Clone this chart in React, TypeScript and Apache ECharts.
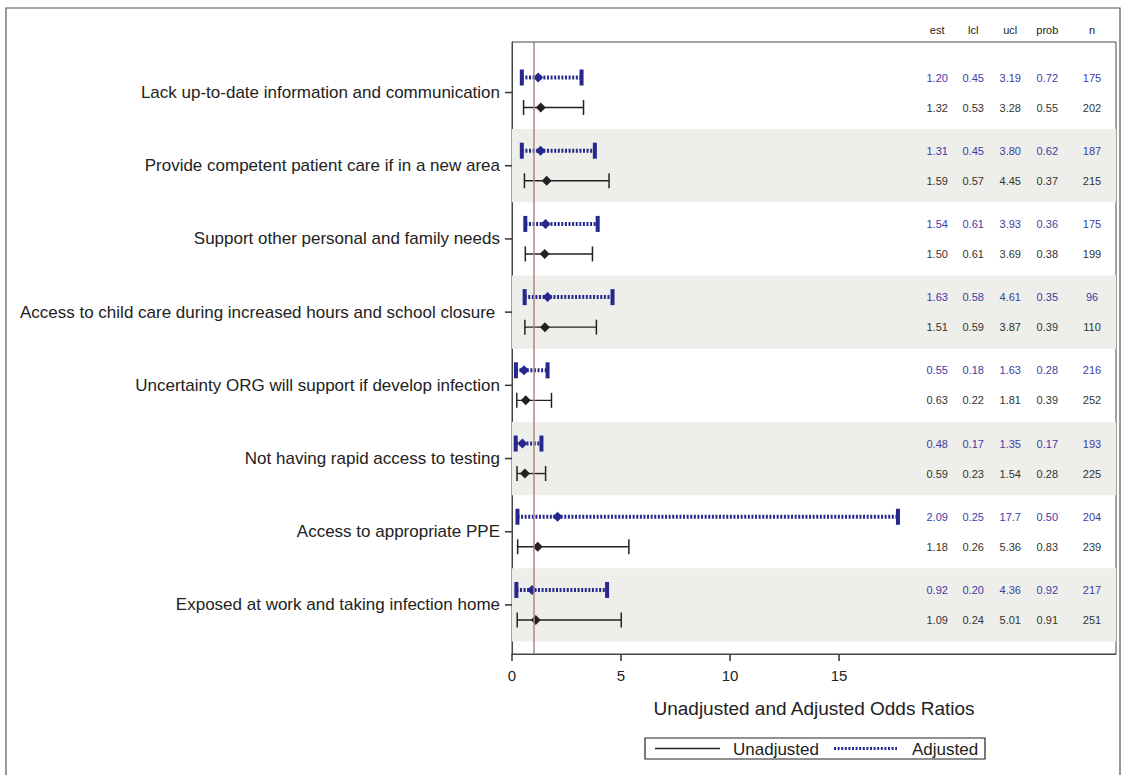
import React, { useEffect, useRef } from "react";
import * as echarts from "echarts";

const categories = [
  "Lack up-to-date information and communication",
  "Provide competent patient care if in a new area",
  "Support other personal and family needs",
  "Access to child care during increased hours and school closure ",
  "Uncertainty ORG will support if develop infection",
  "Not having rapid access to testing",
  "Access to appropriate PPE",
  "Exposed at work and taking infection home",
];

const adjEst = [1.2, 1.31, 1.54, 1.63, 0.55, 0.48, 2.09, 0.92];
const adjLcl = [0.45, 0.45, 0.61, 0.58, 0.18, 0.17, 0.25, 0.2];
const adjUcl = [3.19, 3.8, 3.93, 4.61, 1.63, 1.35, 17.7, 4.36];
const adjProb = [0.72, 0.62, 0.36, 0.35, 0.28, 0.17, 0.5, 0.92];
const adjN = [175, 187, 175, 96, 216, 193, 204, 217];

const unEst = [1.32, 1.59, 1.5, 1.51, 0.63, 0.59, 1.18, 1.09];
const unLcl = [0.53, 0.57, 0.61, 0.59, 0.22, 0.23, 0.26, 0.24];
const unUcl = [3.28, 4.45, 3.69, 3.87, 1.81, 1.54, 5.36, 5.01];
const unProb = [0.55, 0.37, 0.38, 0.39, 0.39, 0.28, 0.83, 0.91];
const unN = [202, 215, 199, 110, 252, 225, 239, 251];

const tableHeaders = ["est", "lcl", "ucl", "prob", "n"];
const tableColumnX = [19.5, 21.15, 22.85, 24.55, 26.6];
const xTicks = [0, 5, 10, 15];

const X_MIN = 0;
const X_MAX = 27.7;
const Y_MIN = -0.69;
const Y_MAX = 7.67;

const BLUE = "#26268f";
const BLUE_TEXT = "#3d3da3";
const BLACK = "#222222";
const OFFSET = 0.205;
const FONT = "Liberation Sans";

const fmt = (v: number) => (v >= 10 ? v.toFixed(1) : v.toFixed(2));

export default function App() {
  const ref = useRef<HTMLDivElement>(null);
  useEffect(() => {
    if (!ref.current) return;
    const chart = echarts.init(ref.current, null, { renderer: "svg" });

    const adjData = categories.map((_, i) => [adjEst[i], adjLcl[i], adjUcl[i], i - OFFSET]);
    const unData = categories.map((_, i) => [unEst[i], unLcl[i], unUcl[i], i + OFFSET]);

    const tableData: any[] = [];
    tableHeaders.forEach((h, c) => tableData.push([tableColumnX[c], -0.86, h, "#222"]));
    categories.forEach((_, i) => {
      const a = [fmt(adjEst[i]), fmt(adjLcl[i]), fmt(adjUcl[i]), adjProb[i].toFixed(2), String(adjN[i])];
      const u = [fmt(unEst[i]), fmt(unLcl[i]), fmt(unUcl[i]), unProb[i].toFixed(2), String(unN[i])];
      a.forEach((t, c) => tableData.push([tableColumnX[c], i - OFFSET, t, BLUE_TEXT]));
      u.forEach((t, c) => tableData.push([tableColumnX[c], i + OFFSET, t, "#333"]));
    });

    // tick marks: [x, y, direction] where direction 0 = y-axis tick (left), 1 = x-axis tick (down)
    const tickData: any[] = [
      ...categories.map((_, i) => [X_MIN, i, 0]),
      ...xTicks.map((v) => [v, Y_MAX, 1]),
    ];

    const renderBar = (adjusted: boolean) => (params: any, api: any) => {
      const est = api.value(0);
      const lcl = api.value(1);
      const ucl = api.value(2);
      const yv = api.value(3);
      const p1 = api.coord([lcl, yv]);
      const p2 = api.coord([ucl, yv]);
      const pe = api.coord([est, yv]);
      const color = adjusted ? BLUE : BLACK;
      const capH = adjusted ? 16 : 15;
      const capW = adjusted ? 4 : 1.5;
      const d = 5;
      return {
        type: "group",
        children: [
          {
            type: "line",
            shape: { x1: p1[0], y1: p1[1], x2: p2[0], y2: p2[1] },
            style: adjusted
              ? { stroke: color, lineWidth: 4, lineDash: [2, 1.6] }
              : { stroke: color, lineWidth: 1.4 },
          },
          {
            type: "rect",
            shape: { x: p1[0] - capW / 2, y: p1[1] - capH / 2, width: capW, height: capH },
            style: { fill: color },
          },
          {
            type: "rect",
            shape: { x: p2[0] - capW / 2, y: p2[1] - capH / 2, width: capW, height: capH },
            style: { fill: color },
          },
          {
            type: "polygon",
            shape: {
              points: [
                [pe[0], pe[1] - d],
                [pe[0] + d, pe[1]],
                [pe[0], pe[1] + d],
                [pe[0] - d, pe[1]],
              ],
            },
            style: { fill: color },
          },
        ],
      };
    };

    const bandData: any[] = [];
    for (let i = 1; i < categories.length; i += 2) {
      bandData.push([{ yAxis: i - 0.5 }, { yAxis: i + 0.5 }]);
    }

    const option: any = {
      animation: false,
      grid: {
        left: 512,
        right: 7,
        top: 42,
        bottom: 121,
        show: true,
        borderColor: "#444",
        borderWidth: 1,
        backgroundColor: "transparent",
      },
      xAxis: {
        type: "value",
        min: X_MIN,
        max: X_MAX,
        name: "Unadjusted and Adjusted Odds Ratios",
        nameLocation: "middle",
        nameGap: 45,
        nameTextStyle: { fontSize: 19, color: "#222", fontFamily: FONT },
        axisLine: { show: true, onZero: false, lineStyle: { color: "#444" } },
        axisTick: { show: false },
        axisLabel: {
          customValues: xTicks,
          fontSize: 15,
          color: "#222",
          fontFamily: FONT,
          margin: 14,
        },
        splitLine: { show: false },
      },
      yAxis: {
        type: "value",
        inverse: true,
        min: Y_MIN,
        max: Y_MAX,
        axisLine: { show: true, onZero: false, lineStyle: { color: "#444" } },
        axisTick: { show: false },
        axisLabel: {
          customValues: categories.map((_, i) => i),
          formatter: (v: number) => categories[Math.round(v)] ?? "",
          fontSize: 17,
          color: "#222",
          fontFamily: FONT,
          margin: 12,
        },
        splitLine: { show: false },
      },
      series: [
        {
          type: "custom",
          name: "Unadjusted",
          renderItem: renderBar(false),
          data: unData,
          encode: { x: [0, 1, 2], y: 3 },
          z: 3,
          markArea: {
            silent: true,
            itemStyle: { color: "#eeeeea" },
            data: bandData,
          },
          markLine: {
            silent: true,
            symbol: "none",
            label: { show: false },
            lineStyle: { color: "#a88888", width: 1.5, type: "solid" },
            data: [{ xAxis: 1 }],
          },
        },
        {
          type: "custom",
          name: "Adjusted",
          renderItem: renderBar(true),
          data: adjData,
          encode: { x: [0, 1, 2], y: 3 },
          z: 4,
        },
        {
          type: "custom",
          name: "ticks",
          clip: false,
          silent: true,
          renderItem: (params: any, api: any) => {
            const p = api.coord([api.value(0), api.value(1)]);
            const dir = api.value(2);
            const shape =
              dir === 0
                ? { x1: p[0] - 7, y1: p[1], x2: p[0], y2: p[1] }
                : { x1: p[0], y1: p[1], x2: p[0], y2: p[1] + 7 };
            return { type: "line", shape, style: { stroke: "#333", lineWidth: 1.5 } };
          },
          data: tickData,
          z: 6,
        },
        {
          type: "custom",
          name: "table",
          clip: false,
          silent: true,
          renderItem: (params: any, api: any) => {
            const item = tableData[params.dataIndex];
            const p = api.coord([item[0], item[1]]);
            return {
              type: "text",
              x: p[0],
              y: p[1],
              style: {
                text: item[2],
                fill: item[3],
                fontSize: 11,
                fontFamily: FONT,
                align: "center",
                verticalAlign: "middle",
              },
            };
          },
          data: tableData.map((t) => [t[0], t[1]]),
          z: 5,
        },
      ],
      graphic: [
        {
          type: "rect",
          shape: { x: 6, y: 8, width: 1114, height: 790 },
          style: { fill: "none", stroke: "#555", lineWidth: 1.2 },
          silent: true,
        },
        {
          type: "rect",
          shape: { x: 645, y: 738, width: 340, height: 21 },
          style: { fill: "none", stroke: "#222", lineWidth: 1.2 },
        },
        {
          type: "line",
          shape: { x1: 655, y1: 748.5, x2: 720, y2: 748.5 },
          style: { stroke: BLACK, lineWidth: 1.3 },
        },
        {
          type: "text",
          x: 733,
          y: 749,
          style: {
            text: "Unadjusted",
            fill: "#222",
            fontSize: 17,
            fontFamily: FONT,
            verticalAlign: "middle",
          },
        },
        {
          type: "line",
          shape: { x1: 834, y1: 748.5, x2: 897, y2: 748.5 },
          style: { stroke: BLUE, lineWidth: 3, lineDash: [2, 1.6] },
        },
        {
          type: "text",
          x: 912,
          y: 749,
          style: {
            text: "Adjusted",
            fill: "#222",
            fontSize: 17,
            fontFamily: FONT,
            verticalAlign: "middle",
          },
        },
      ],
    };
    chart.setOption(option);
    return () => chart.dispose();
  }, []);
  return (
    <div
      ref={ref}
      style={{ position: "absolute", left: 0, top: 0, width: 1123, height: 775, background: "#fff" }}
    />
  );
}
